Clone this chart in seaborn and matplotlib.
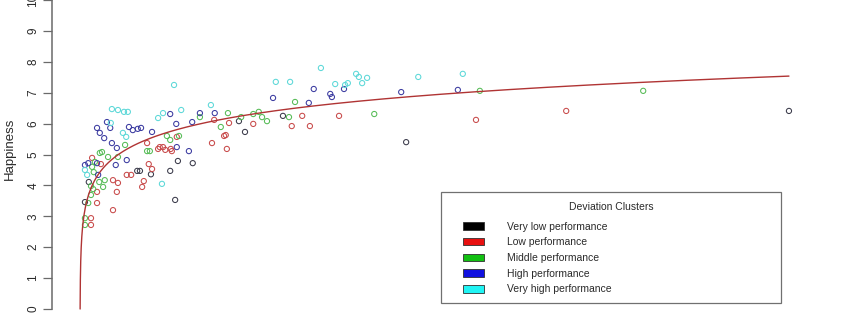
import numpy as np
import pandas as pd
import matplotlib
matplotlib.use("Agg")
import matplotlib.pyplot as plt
from matplotlib.patches import Patch, Rectangle
import seaborn as sns

# ---------------- data ----------------
very_low_gdp = [128.9, 59.3, 17.3, 17.8, 20.5, 16.4, 12.9, 10.4, 10.9, 30.0, 28.9, 36.9, 1.6, 0.9]
very_low_happy = [6.41, 5.40, 3.53, 4.79, 4.72, 4.47, 4.36, 4.47, 4.47, 5.73, 6.08, 6.25, 4.11, 3.46]

low_gdp = [2.2, 3.8, 8.5, 9.3, 6.0, 6.9, 3.1, 6.7, 3.1, 6.0, 2.0, 2.0, 24.4, 17.6, 12.2, 24.0, 14.5,
           15.1, 14.2, 15.5, 16.5, 16.7, 12.5, 13.1, 11.6, 11.3, 27.1, 31.5, 38.5, 26.5, 26.2, 26.7,
           47.1, 40.4, 41.8, 72.0, 88.4]
low_happy = [4.89, 4.69, 4.34, 4.34, 4.17, 4.08, 3.79, 3.79, 3.43, 3.20, 2.94, 2.72, 6.12, 5.57, 5.37,
             5.37, 5.24, 5.24, 5.18, 5.15, 5.18, 5.11, 4.69, 4.53, 4.14, 3.95, 6.02, 5.99, 5.92, 5.63,
             5.60, 5.18, 6.25, 6.25, 5.92, 6.12, 6.41]

middle_gdp = [8.2, 3.6, 4.0, 5.1, 6.9, 2.7, 2.2, 2.5, 4.5, 3.5, 2.0, 2.4, 4.2, 2.0, 1.5, 0.9, 0.9, 21.8,
              15.8, 16.4, 18.0, 12.2, 12.7, 26.9, 32.5, 31.5, 29.3, 33.1, 34.0, 38.0, 25.6, 39.1, 53.5,
              72.7, 102.4]
middle_happy = [5.31, 5.05, 5.08, 4.92, 4.92, 4.76, 4.60, 4.43, 4.17, 4.11, 3.98, 3.88, 3.95, 3.69, 3.43,
                2.94, 2.72, 6.21, 5.60, 5.47, 5.60, 5.11, 5.11, 6.34, 6.38, 6.31, 6.21, 6.21, 6.08, 6.21,
                5.89, 6.70, 6.31, 7.06, 7.06]

high_gdp = [4.9, 5.5, 3.1, 3.6, 4.4, 8.9, 9.6, 10.5, 11.1, 5.8, 6.7, 8.5, 0.9, 1.5, 6.5, 3.3, 3.1, 16.4,
            21.8, 24.5, 17.5, 20.4, 13.1, 19.8, 17.6, 35.1, 42.5, 45.5, 45.8, 48.0, 41.6, 58.4, 68.7]
high_happy = [6.05, 5.86, 5.86, 5.70, 5.53, 5.89, 5.79, 5.83, 5.86, 5.37, 5.21, 4.82, 4.66, 4.72, 4.66,
              4.34, 4.72, 6.31, 6.34, 6.34, 5.99, 6.05, 5.73, 5.11, 5.24, 6.83, 7.12, 6.96, 6.86, 7.12,
              6.67, 7.02, 7.09]

very_high_gdp = [5.8, 6.9, 8.0, 8.7, 5.6, 7.8, 8.4, 0.9, 1.3, 17.1, 18.4, 15.1, 14.2, 23.8, 14.9, 35.6,
                 38.2, 43.8, 46.4, 48.2, 48.7, 50.2, 50.7, 52.2, 51.3, 61.5, 69.6]
very_high_happy = [6.47, 6.44, 6.38, 6.38, 6.02, 5.70, 5.57, 4.50, 4.34, 7.25, 6.44, 6.34, 6.18, 6.60,
                   4.05, 7.35, 7.35, 7.80, 7.28, 7.25, 7.31, 7.61, 7.51, 7.48, 7.31, 7.51, 7.61]

cluster_names = ["Very low performance", "Low performance", "Middle performance",
                 "High performance", "Very high performance"]
legend_title = "Deviation Clusters"
y_label = "Happiness"
y_ticks = [0, 1, 2, 3, 4, 5, 6, 7, 8, 9, 10]

# logarithmic fit  happiness = a + b * ln(gdp)
fit_intercept = 3.31
fit_slope = 0.87

# ---------------- styling ----------------
swatch_colors = ["#000000", "#e81010", "#12c012", "#1010e0", "#20f4f4"]
point_colors = ["#3a3a4a", "#c84a4a", "#55bb55", "#3a3aa0", "#5cd8d8"]
curve_color = "#b03434"
axis_color = "#6a6a6a"
text_color = "#2a2a2a"

sns.set_style("white")
plt.rcParams["font.family"] = ["Liberation Sans", "DejaVu Sans"]

W, H = 845, 321
fig = plt.figure(figsize=(W / 100, H / 100), dpi=100)
left_px = 52
ax = fig.add_axes([left_px / W, 0, (W - left_px) / W, 1])
ax.set_xlim(-5.09, 139.09)
ax.set_ylim(-0.388, 10.0)

groups = [(very_low_gdp, very_low_happy), (low_gdp, low_happy), (middle_gdp, middle_happy),
          (high_gdp, high_happy), (very_high_gdp, very_high_happy)]
frames = []
for name, (gx, gy) in zip(cluster_names, groups):
    frames.append(pd.DataFrame({"gdp": gx, "happiness": gy, "cluster": name}))
df = pd.concat(frames, ignore_index=True)

sns.scatterplot(data=df, x="gdp", y="happiness", hue="cluster", hue_order=cluster_names,
                palette=dict(zip(cluster_names, point_colors)), s=14, linewidth=0.75,
                legend=False, ax=ax, zorder=2)
coll = ax.collections[0]
fc = coll.get_facecolors().copy()
coll.set_facecolors("none")
coll.set_edgecolors(fc)

xs = np.geomspace(np.exp(-fit_intercept / fit_slope), df["gdp"].max(), 500)
ys = fit_intercept + fit_slope * np.log(xs)
sns.lineplot(x=xs, y=ys, color=curve_color, linewidth=1.0, sort=False, estimator=None, ax=ax, zorder=3)

# axes decoration (R style: only left axis)
for s in ["top", "right", "bottom"]:
    ax.spines[s].set_visible(False)
ax.spines["left"].set_bounds(0, 10)
ax.spines["left"].set_color(axis_color)
ax.spines["left"].set_linewidth(1.1)
ax.set_xticks([])
ax.set_yticks(y_ticks)
ax.set_yticklabels([str(t) for t in y_ticks])
ax.tick_params(axis="y", length=6.5, width=0.9, color=axis_color, labelsize=8.5,
               labelcolor=text_color, pad=2.5, labelrotation=90, left=True)
for lab in ax.get_yticklabels():
    lab.set_va("center")
ax.set_xlabel("")
ax.set_ylabel(y_label, fontsize=9.5, color=text_color)
ax.yaxis.set_label_coords(-0.0454, 0.536)

# legend box
def fx(px):
    return px / W

def fy(py):
    return (H - py) / H

frame = Rectangle((fx(441), fy(303)), (781 - 441) / W, (303 - 192) / H, transform=fig.transFigure,
                  fill=False, edgecolor="#707070", linewidth=0.9, zorder=4)
fig.patches.append(frame)
fig.text(fx(611), fy(206.5), legend_title, ha="center", va="center", fontsize=7.5, color=text_color, zorder=5)
handles = [Patch(facecolor=c, edgecolor="#303030", linewidth=0.6) for c in swatch_colors]
leg = ax.legend(handles, cluster_names, loc="upper left", bbox_to_anchor=(fx(463), fy(221.5)),
                bbox_transform=fig.transFigure, frameon=False, borderpad=0, borderaxespad=0,
                handlelength=2.0, handleheight=0.75, handletextpad=2.2, labelspacing=0.55,
                fontsize=7.5)
for t in leg.get_texts():
    t.set_color(text_color)
leg.set_zorder(6)

fig.savefig("out.png", dpi=100, facecolor="white")
